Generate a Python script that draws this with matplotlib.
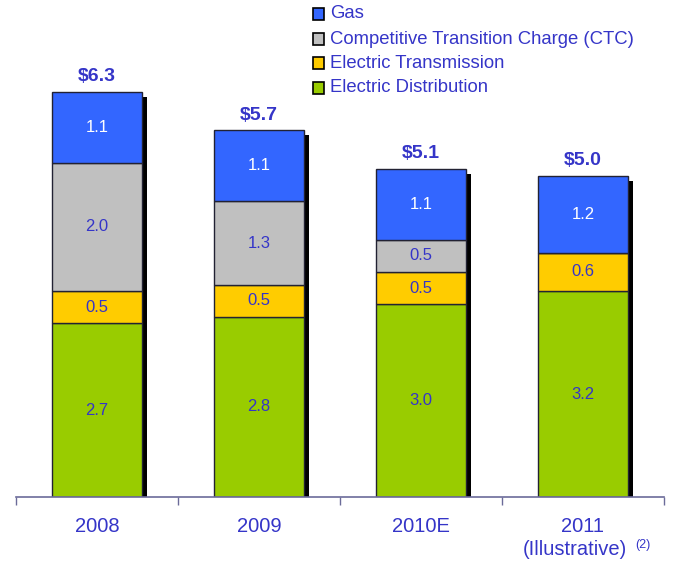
import matplotlib
matplotlib.use("Agg")
import matplotlib.pyplot as plt
from matplotlib.patches import Rectangle
import numpy as np

plt.rcParams['font.family'] = ['Liberation Sans', 'DejaVu Sans']

categories = ["2008", "2009", "2010E", "2011"]
distribution = [2.7, 2.8, 3.0, 3.2]
transmission = [0.5, 0.5, 0.5, 0.6]
ctc = [2.0, 1.3, 0.5, 0.0]
gas = [1.1, 1.1, 1.1, 1.2]
totals = ["$6.3", "$5.7", "$5.1", "$5.0"]
series_names = ["Electric Distribution", "Electric Transmission",
                "Competitive Transition Charge (CTC)", "Gas"]

colors = ["#99CC00", "#FFCC00", "#C0C0C0", "#3366FF"]
text_col = "#3535C8"

W, H = 673, 561
fig = plt.figure(figsize=(W / 100, H / 100), dpi=100)
ax_left, ax_right = 16 / W, 664 / W
ax_bottom = (H - 497) / H
ax = fig.add_axes([ax_left, ax_bottom, ax_right - ax_left, 1 - ax_bottom])
px_per_unit = 64.3
ax.set_xlim(-0.5, 3.5)
ax.set_ylim(0, 497 / px_per_unit)

x = np.arange(len(categories))
bw = 0.556
dx = 5 / 162
dy = 5 / px_per_unit

series = [distribution, transmission, ctc, gas]
tot = np.sum(series, axis=0)

# shadows
ax.bar(x + dx, tot, width=bw, bottom=-dy, color="black", zorder=1)

bottom = np.zeros(len(categories))
for vals, col in zip(series, colors):
    vals = np.array(vals)
    ax.bar(x, vals, width=bw, bottom=bottom, color=col, edgecolor="#222233",
           linewidth=1.0, zorder=2)
    for i, v in enumerate(vals):
        if v > 0:
            c = "white" if col == "#3366FF" else text_col
            ax.text(x[i], bottom[i] + v / 2, f"{v:.1f}", ha="center", va="center",
                    fontsize=12, color=c, zorder=3)
    bottom += vals

for i, t in enumerate(totals):
    ax.text(x[i], tot[i] + 0.17, t, ha="center", va="baseline", fontsize=14,
            fontweight="bold", color=text_col)

for s in ["top", "right", "left"]:
    ax.spines[s].set_visible(False)
ax.spines["bottom"].set_color("#6B6B99")
ax.spines["bottom"].set_linewidth(1.2)
ax.set_yticks([])
ax.set_xticks(np.arange(-0.5, 3.6, 1.0))
ax.set_xticklabels([])
ax.tick_params(axis="x", length=6, color="#6B6B99", width=1)

for i, lab in enumerate(categories):
    ax.text(x[i], -0.54, lab, ha="center", va="baseline", fontsize=14.5,
            color=text_col)
ax.text(x[3] - 0.05, -0.9, "(Illustrative)", ha="center", va="baseline",
        fontsize=14.5, color=text_col)
ax.text(x[3] + 0.32, -0.80, "(2)", ha="left", va="baseline", fontsize=9,
        color=text_col)

# legend (manual, reversed order: Gas on top)
row_y = [14, 39, 63, 88]
for yy, name, col in zip(row_y, series_names[::-1], colors[::-1]):
    fig.patches.append(Rectangle((313 / W, 1 - (yy + 5.5) / H), 11 / W, 11 / H,
                                 transform=fig.transFigure, facecolor=col,
                                 edgecolor="black", linewidth=1.2))
    fig.text(330 / W, 1 - yy / H, name, ha="left", va="center", fontsize=13.3,
             color=text_col)

fig.savefig("out.png", dpi=100)
